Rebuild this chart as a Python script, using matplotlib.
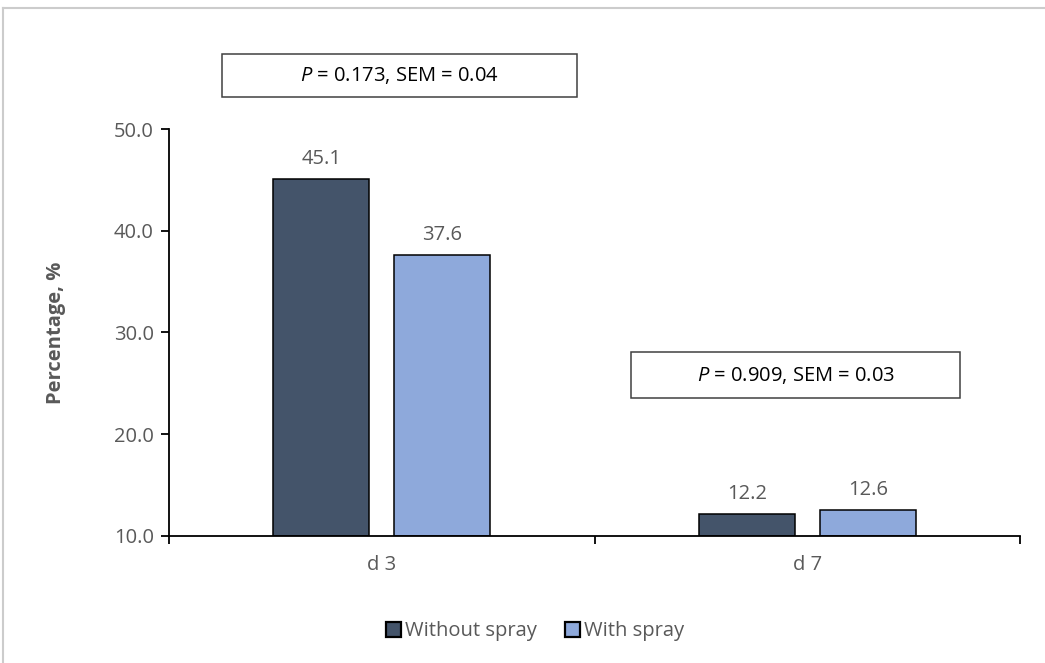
import matplotlib.pyplot as plt
import numpy as np
from matplotlib.patches import Rectangle
from matplotlib.lines import Line2D

plt.rcParams['font.family'] = ['Open Sans', 'DejaVu Sans']
plt.rcParams['mathtext.fontset'] = 'custom'
plt.rcParams['mathtext.it'] = 'Open Sans:italic'
plt.rcParams['mathtext.rm'] = 'Open Sans'

# data
days = ['d 3', 'd 7']
without_spray = [45.1, 12.2]
with_spray = [37.6, 12.6]
stats_text = [r'$\it{P}$ = 0.173, SEM = 0.04', r'$\it{P}$ = 0.909, SEM = 0.03']

dark = '#44546A'
light = '#8EA9DB'
gray = '#595959'
fs = 14.5

fig = plt.figure(figsize=(10.45, 6.63), dpi=100)
ax = fig.add_axes([0.1617, 0.1916, 0.8144, 0.6138])

x = np.arange(len(days))
w = 0.226
off = 0.142
b1 = ax.bar(x - off, np.array(without_spray) - 10, w, bottom=10, color=dark,
            edgecolor='black', linewidth=1.1, label='Without spray')
b2 = ax.bar(x + off, np.array(with_spray) - 10, w, bottom=10, color=light,
            edgecolor='black', linewidth=1.1, label='With spray')
for bars, vals in [(b1, without_spray), (b2, with_spray)]:
    ax.bar_label(bars, labels=[f'{v:.1f}' for v in vals], padding=7,
                 fontsize=fs, color=gray)

ax.set_xlim(-0.5, 1.5)
ax.set_ylim(10, 50)
ax.set_yticks([10, 20, 30, 40, 50])
ax.set_yticklabels([f'{v:.1f}' for v in [10, 20, 30, 40, 50]])
ax.set_xticks([-0.5, 0.5, 1.5])
ax.set_xticklabels(['', '', ''])
ax.set_xticks(x, minor=True)
ax.set_xticklabels(days, minor=True)
ax.tick_params(axis='x', which='minor', length=0, pad=14, labelsize=fs, labelcolor=gray)
ax.tick_params(axis='x', which='major', length=6, width=1.3, direction='out')
ax.tick_params(axis='y', length=6, width=1.3, direction='out', labelsize=fs,
               labelcolor=gray, pad=5)
for s in ['top', 'right']:
    ax.spines[s].set_visible(False)
for s in ['left', 'bottom']:
    ax.spines[s].set_linewidth(1.3)

ax.set_ylabel('Percentage, %', fontsize=fs, fontweight='bold', color=gray, labelpad=34)

# stat boxes (data coords)
boxes = [(-0.375, 53.1, 0.834, 4.3), (0.586, 23.56, 0.773, 4.52)]
for (bx, by, bw, bh), t in zip(boxes, stats_text):
    ax.add_patch(Rectangle((bx, by), bw, bh, fill=False, edgecolor='#404040',
                           linewidth=1.1, clip_on=False))
    ax.text(bx + bw / 2, by + bh / 2, t, ha='center', va='center',
            fontsize=fs, color='black', clip_on=False)

leg = fig.legend(handles=[b1, b2], loc='center', bbox_to_anchor=(0.512, 0.048),
                 ncol=2, frameon=False, fontsize=fs, handlelength=0.75,
                 handleheight=0.75, handletextpad=0.2, columnspacing=1.4)
for t in leg.get_texts():
    t.set_color(gray)
for h in leg.legend_handles:
    h.set_linewidth(1.6)

# screenshot frame
fig.add_artist(Line2D([0.003, 1], [1 - 8 / 663, 1 - 8 / 663], color='#cccccc', linewidth=1.5))
fig.add_artist(Line2D([3 / 1045, 3 / 1045], [0, 1 - 8 / 663], color='#cccccc', linewidth=1.5))

fig.savefig('out.png', dpi=100)
